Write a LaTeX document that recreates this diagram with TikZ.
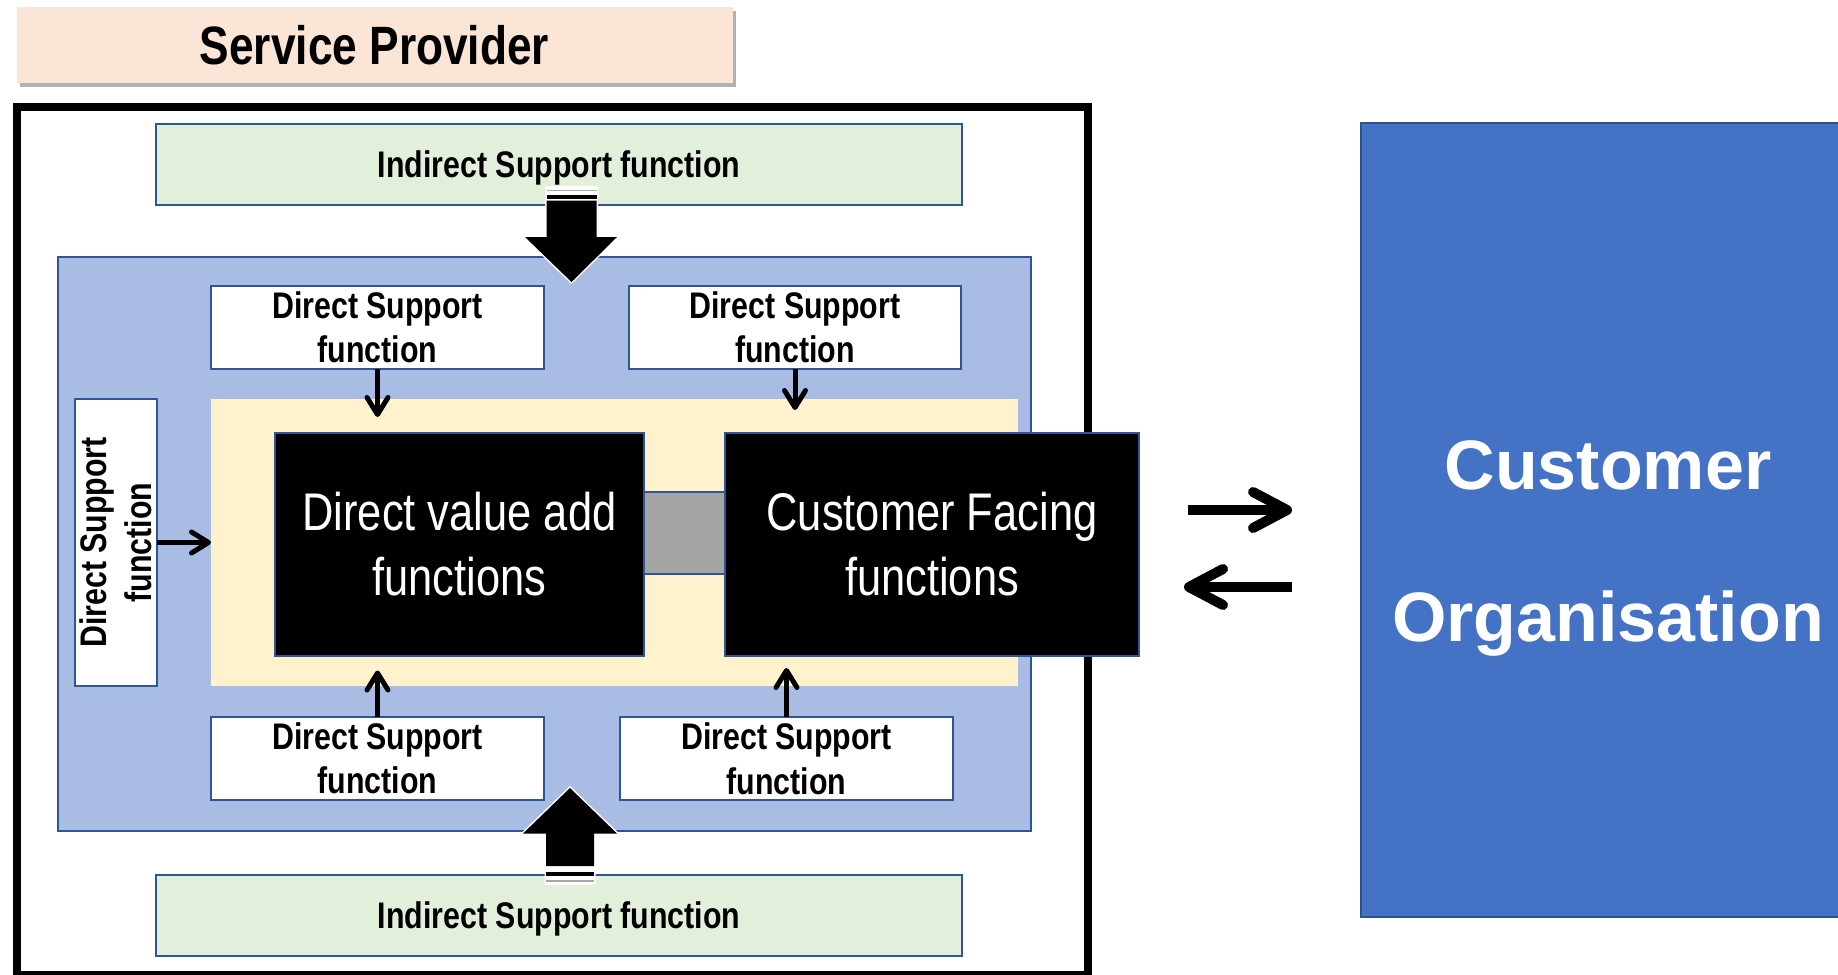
\documentclass[tikz,border=0pt]{standalone}
\usepackage{fontspec}
\setmainfont{Liberation Sans}
\newfontfamily\narrowfont[FakeStretch=0.82]{Liberation Sans}
\usetikzlibrary{arrows.meta,shadows}
\definecolor{bordblue}{HTML}{2F5597}
\definecolor{regblue}{HTML}{A9BDE4}
\definecolor{grn}{HTML}{E2EFDA}
\definecolor{ylw}{HTML}{FFF2CC}
\definecolor{peach}{HTML}{FBE5D6}
\definecolor{custblue}{HTML}{4472C4}
\definecolor{custbord}{HTML}{2F528F}
\definecolor{gry}{HTML}{A5A5A5}
\begin{document}
\begin{tikzpicture}[x=1pt,y=-1pt,
  every node/.style={inner sep=0pt, outer sep=0pt},
  bluebox/.style={draw=bordblue, line width=2pt, align=center},
  lbl/.style={font=\narrowfont\bfseries\fontsize{37}{44.5}\selectfont},
  dsbox/.style={bluebox, lbl, fill=white, minimum width=333pt, minimum height=83pt},
  isbox/.style={bluebox, lbl, fill=grn, minimum width=806pt, minimum height=81pt, text depth=0pt},
  blackbox/.style={bluebox, fill=black, text=white, font=\narrowfont\fontsize{53}{64.5}\selectfont, minimum height=222.5pt},
  thinarrow/.style={line width=5pt, -{Straight Barb[length=17pt,width=21pt,line cap=round,line join=round]}},
  widearrow/.style={line width=10pt, -{Straight Barb[length=34pt,width=36pt,line cap=round,line join=round]}},
  stripe/.style={fill=black},
  stripelight/.style={fill=black!35},
]
\useasboundingbox (0,0) rectangle (1838,974);

% title
\node[fill=peach, minimum width=716pt, minimum height=76pt,
      drop shadow={shadow xshift=3pt,shadow yshift=-4pt,fill=black,opacity=0.3},
      font=\narrowfont\bfseries\fontsize{54}{60}\selectfont] (title) at (374.5,45) {Service Provider};

% service provider frame
\node[draw=black, fill=white, line width=8pt, minimum width=1071.5pt, minimum height=868pt] (sp) at (552.25,540.5) {};

% indirect support
\node[isbox] (isTop) at (559,164.5) {Indirect Support function};
\node[isbox] (isBot) at (559,915) {Indirect Support function};

% blue region and yellow core
\node[draw=bordblue, line width=2pt, fill=regblue, minimum width=973pt, minimum height=574.5pt] (region) at (544.5,544) {};
\node[fill=ylw, minimum width=807pt, minimum height=287pt] (core) at (614.5,542.5) {};

% direct support boxes
\node[dsbox] (dsTL) at (377.5,327.5) {Direct Support\\function};
\node[dsbox, minimum width=332pt] (dsTR) at (795,327.5) {Direct Support\\function};
\node[dsbox] (dsBL) at (377.5,758.5) {Direct Support\\function};
\node[dsbox] (dsBR) at (786.5,758.75) {Direct Support\\function};
\node[dsbox, rotate=90, minimum width=287pt, minimum height=82pt] (dsL) at (116,542.5) {Direct Support\\function};

% main functions
\node[blackbox, minimum width=369pt] (dva) at (459.5,544.25) {Direct value add\\functions};
\node[blackbox, minimum width=414pt] (cf) at (932,544.25) {Customer Facing\\functions};
\node[draw=bordblue, line width=2pt, fill=gry, minimum width=81pt, minimum height=82pt] (link) at (684.5,533) {};

% customer organisation
\node[draw=custbord, line width=2pt, fill=custblue, minimum width=494pt, minimum height=794pt] (cust) at (1608,520) {};
\node[font=\bfseries\fontsize{70}{152}\selectfont, text=white, align=center] (custlbl) at (1608,548.5) {Customer\\Organisation};

% small arrows
\coordinate (tTL) at (377.5,417);
\coordinate (tTR) at (795,410);
\coordinate (tBL) at (377.5,670.5);
\coordinate (tBR) at (786.5,668);
\draw[thinarrow] (dsTL.south) -- (tTL);
\draw[thinarrow] (dsTR.south) -- (tTR);
\draw[thinarrow] (dsBL.north) -- (tBL);
\draw[thinarrow] (dsBR.north) -- (tBR);
\draw[thinarrow] (dsL.south) -- (core.west);

% block arrow from top indirect support
\filldraw[white, line width=3pt, line join=miter]
  (546.5,187.5) -- (596.5,187.5) -- (596.5,237) -- (617,237) -- (571.5,282) -- (525,237) -- (546.5,237) -- cycle;
\fill[stripelight] (546.5,189.5) rectangle (596.5,191);
\fill[stripe] (546.5,194.5) rectangle (596.5,198.5);
\fill[black] (546.5,200.5) -- (596.5,200.5) -- (596.5,237) -- (617,237) -- (571.5,282) -- (525,237) -- (546.5,237) -- cycle;

% block arrow from bottom indirect support
\filldraw[white, line width=3pt, line join=miter]
  (546,883) -- (594,883) -- (594,833.5) -- (617,833.5) -- (570,788) -- (523,833.5) -- (546,833.5) -- cycle;
\fill[stripelight] (546,880) rectangle (594,881.5);
\fill[stripe] (546,871.5) rectangle (594,875.5);
\fill[black] (546,866) -- (594,866) -- (594,833.5) -- (617,833.5) -- (570,788) -- (523,833.5) -- (546,833.5) -- cycle;

% exchange arrows
\coordinate (outA) at (1188,510);
\coordinate (outB) at (1292,510);
\coordinate (inA) at (1292,587);
\coordinate (inB) at (1184,587);
\draw[widearrow] (outA) -- (outB);
\draw[widearrow] (inA) -- (inB);
\end{tikzpicture}
\end{document}
